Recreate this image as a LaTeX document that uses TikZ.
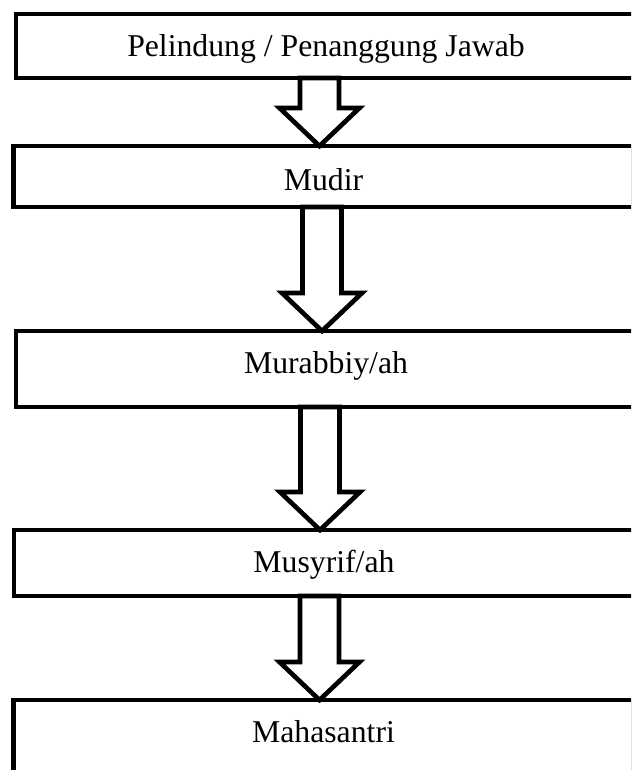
\documentclass[tikz,border=0pt]{standalone}
\usepackage{fontspec}
\setmainfont{Liberation Serif}
\usetikzlibrary{calc}

\tikzset{
  orgbox/.style={draw, line width=3.5pt, rectangle, outer sep=0pt, inner sep=0pt,
    minimum width=465pt, anchor=north west, text height=31.9pt, text depth=#1,
    font=\fontsize{23.8pt}{28pt}\selectfont},
  barrow/.style={line width=3.5pt, line join=miter}
}
% hollow block arrow from the bottom of one box to the top of the next
\newcommand{\blockarrow}[2]{%
  \draw [barrow] ($(#1.south -| #2.north)+(-23.5,0)$) -- ($(#2.north)+(-23.5,-38)$)
    -- ($(#2.north)+(-44,-38)$) -- ($(#2.north)+(-4,0)$) -- ($(#2.north)+(36,-38)$)
    -- ($(#2.north)+(15.5,-38)$) -- ($(#1.south -| #2.north)+(15.5,0)$) -- cycle ;}

\begin{document}
\begin{tikzpicture}[x=0.75pt,y=0.75pt,yscale=-1,xscale=1]
\clip (0,0) rectangle (631,770);

% Boxes
\node [orgbox=16.1pt] (pelindung) at (16,14) {Pelindung / Penanggung Jawab};
\node [orgbox=12.4pt, text height=33.4pt] (mudir) at (13.5,146) {Mudir};
\node [orgbox=25.1pt] (murabbiy) at (16,331) {Murabbiy/ah};
\node [orgbox=17.6pt] (musyrif) at (14,530) {Musyrif/ah};
\node [orgbox=45pt] (mahasantri) at (13.5,700) {Mahasantri};

% Arrows
\blockarrow{pelindung}{mudir}
\blockarrow{mudir}{murabbiy}
\blockarrow{murabbiy}{musyrif}
\blockarrow{musyrif}{mahasantri}
\end{tikzpicture}
\end{document}
